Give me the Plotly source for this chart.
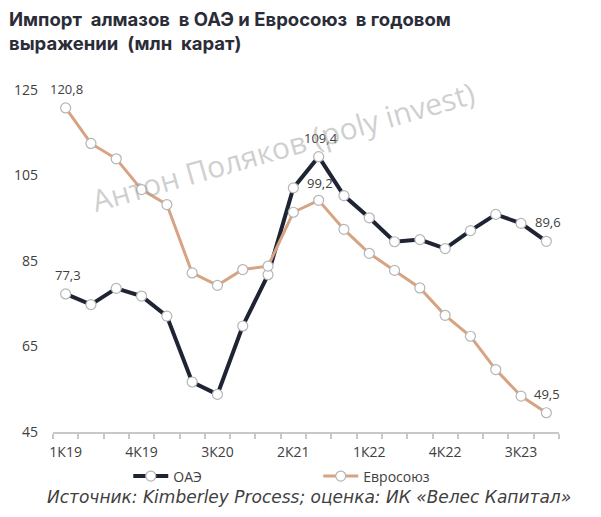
import plotly.graph_objects as go

quarters = ["1К19", "2К19", "3К19", "4К19", "1К20", "2К20", "3К20", "4К20",
            "1К21", "2К21", "3К21", "4К21", "1К22", "2К22", "3К22", "4К22",
            "1К23", "2К23", "3К23", "4К23"]
uae = [77.3, 74.8, 78.6, 76.8, 72.1, 56.7, 53.8, 69.8, 81.8, 102.1,
       109.4, 100.3, 95.1, 89.5, 90.0, 87.9, 92.1, 95.9, 93.8, 89.6]
eu = [120.8, 112.5, 108.9, 101.7, 98.2, 82.2, 79.3, 83.0, 83.8, 96.4,
      99.2, 92.4, 86.8, 82.8, 78.7, 72.3, 67.4, 59.6, 53.4, 49.5]
y_ticks = [45, 65, 85, 105, 125]
label_idx_uae = [0, 10, 19]
label_idx_eu = [0, 10, 19]

x = list(range(len(quarters)))
UAE_COL = "#1e2434"
EU_COL = "#d6a483"
FONT = "Open Sans"

W, H = 601, 517
L, R, T, B = 52.7, 42, 90, 84.5
pw, ph = W - L - R, H - T - B

def px_x(p):
    return (p - L) / pw

def px_y(p):
    return (H - B - p) / ph

fig = go.Figure()
fig.add_trace(go.Scatter(
    x=x, y=uae, name="ОАЭ", mode="lines+markers",
    line=dict(color=UAE_COL, width=4),
    marker=dict(symbol="circle", size=10, color="white",
                line=dict(color="#b5b5b5", width=1.2)),
))
fig.add_trace(go.Scatter(
    x=x, y=eu, name="Евросоюз", mode="lines+markers",
    line=dict(color=EU_COL, width=3),
    marker=dict(symbol="circle", size=10, color="white",
                line=dict(color="#b5b5b5", width=1.2)),
))

def fmt(v):
    return f"{v:.1f}".replace(".", ",")

anns = []
for i in label_idx_uae:
    anns.append(dict(x=x[i], y=uae[i], text=fmt(uae[i]), showarrow=False,
                     xshift=2, yshift=19, xref="x", yref="y",
                     font=dict(family=FONT, size=13, color="#404040")))
for i in label_idx_eu:
    anns.append(dict(x=x[i], y=eu[i], text=fmt(eu[i]), showarrow=False,
                     xshift=1, yshift=17 if i == 10 else 19,
                     xref="x", yref="y",
                     font=dict(family=FONT, size=13, color="#404040")))

# watermark
anns.append(dict(x=px_x(283), y=px_y(147), xref="paper", yref="paper",
                 xanchor="center", yanchor="middle",
                 text="Антон Поляков (poly invest)", showarrow=False,
                 textangle=-16,
                 font=dict(family=FONT, size=30, color="rgba(160,160,160,0.5)")))
# title
anns.append(dict(x=px_x(7), y=px_y(6), xref="paper", yref="paper",
                 xanchor="left", yanchor="top", align="left", showarrow=False,
                 text="<b>Импорт  алмазов  в ОАЭ и Евросоюз  в годовом<br>выражении  (млн  карат)</b>",
                 font=dict(family="Inter", size=18.5, color="#2a2c38")))
# source
anns.append(dict(x=px_x(309), y=px_y(498), xref="paper", yref="paper",
                 xanchor="center", yanchor="middle", showarrow=False,
                 text="<i>Источник: Kimberley Process; оценка: ИК «Велес Капитал»</i>",
                 font=dict(family="DejaVu Sans", size=17, color="#404040")))

fig.update_layout(
    width=W, height=H,
    margin=dict(l=L, r=R, t=T, b=B, autoexpand=False),
    paper_bgcolor="white", plot_bgcolor="white",
    showlegend=True,
    legend=dict(orientation="h", x=px_x(128), xanchor="left",
                y=px_y(477), yanchor="middle",
                entrywidth=140, entrywidthmode="pixels",
                font=dict(family=FONT, size=14, color="#404040"),
                itemwidth=35, tracegroupgap=0),
    annotations=anns,
    font=dict(family=FONT),
)
fig.update_xaxes(
    range=[-0.5, len(quarters) - 0.5],
    tickmode="array", tickvals=x[::3], ticktext=quarters[::3],
    ticks="", showgrid=False, zeroline=False,
    showline=True, linecolor="#c8c8c8", linewidth=1.5,
    minor=dict(ticks="outside", tick0=-0.5, dtick=1, ticklen=5,
               tickcolor="#c8c8c8", tickwidth=1.5, showgrid=False),
    tickfont=dict(family=FONT, size=14, color="#404040"),
    ticklabelstandoff=6,
)
fig.update_yaxes(
    range=[45, 125], tickmode="array", tickvals=y_ticks,
    showgrid=False, zeroline=False, showline=False, ticks="",
    tickfont=dict(family=FONT, size=14, color="#404040"),
    ticklabelstandoff=14,
)
fig.write_html("out.html")
